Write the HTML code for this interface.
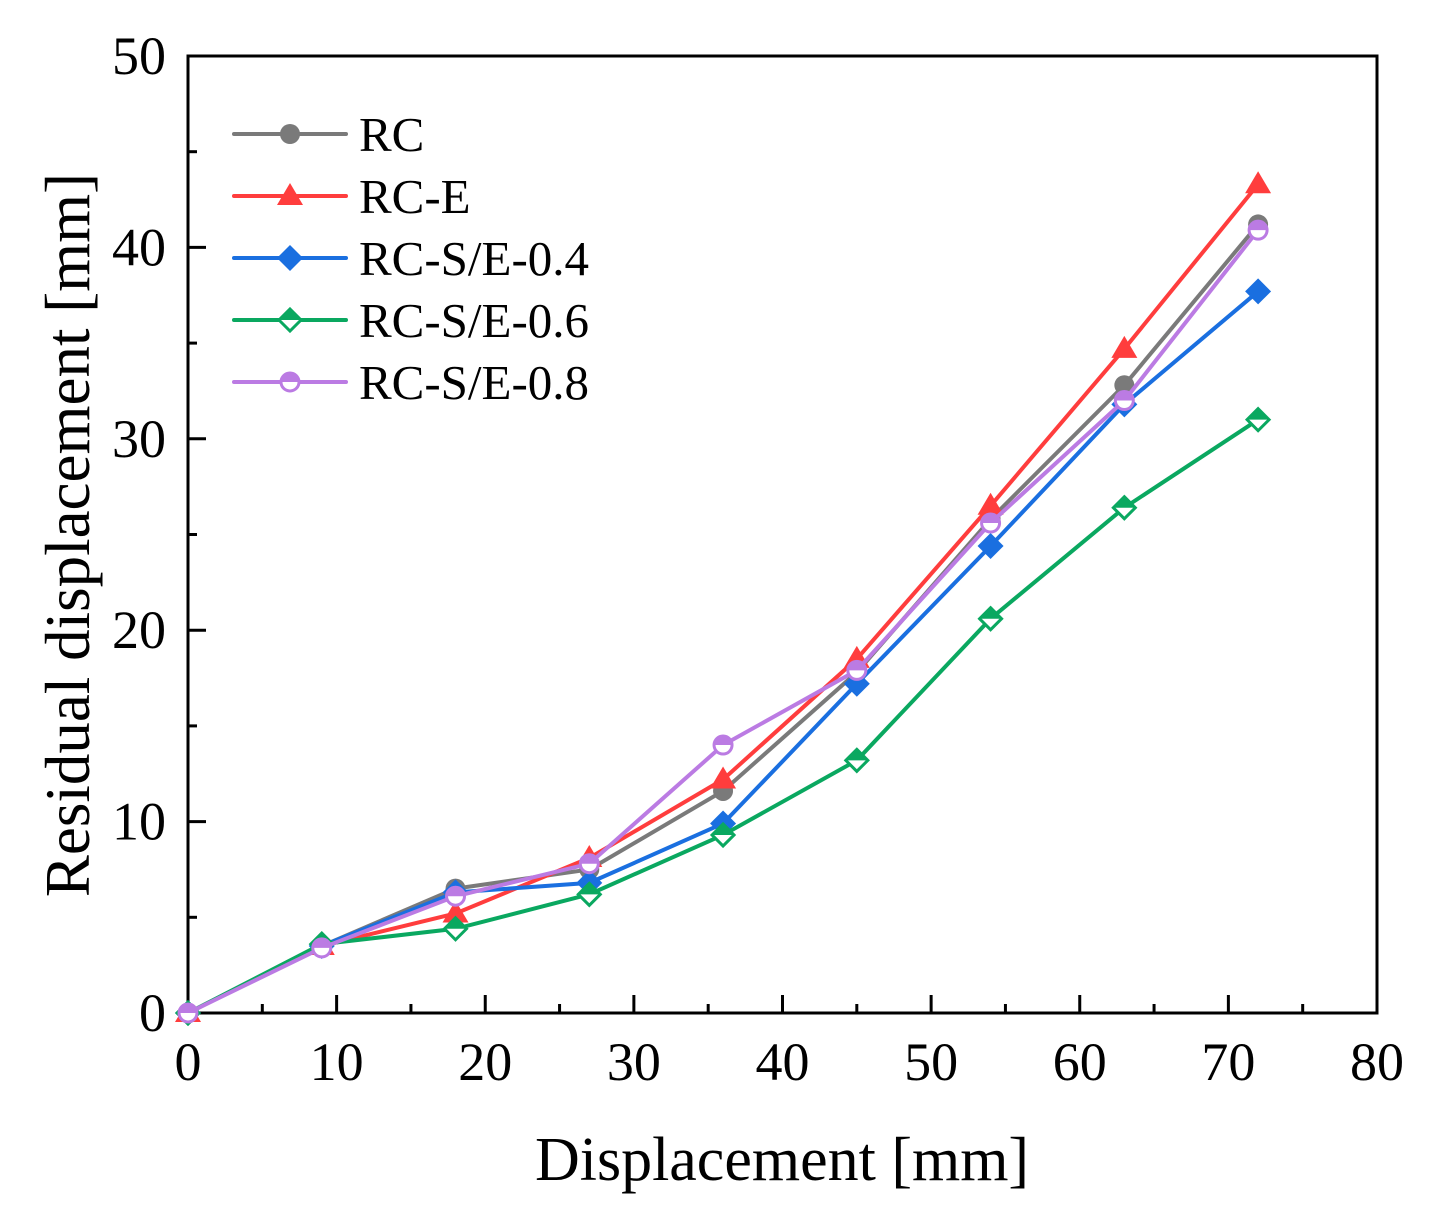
<!DOCTYPE html>
<html><head><meta charset="utf-8"><style>
html,body{margin:0;padding:0;background:#fff;}
svg{display:block;font-family:"Liberation Serif",serif;}
</style></head><body>
<svg id="chart" width="1433" height="1219" viewBox="0 0 1433 1219"></svg>
<script>
const xValues=[0,9,18,27,36,45,54,63,72];
const seriesNames=["RC","RC-E","RC-S/E-0.4","RC-S/E-0.6","RC-S/E-0.8"];
const rcValues=[0,3.5,6.5,7.5,11.6,17.8,25.8,32.8,41.2];
const rcEValues=[0,3.5,5.2,8.1,12.2,18.5,26.5,34.7,43.3];
const se04Values=[0,3.5,6.3,6.8,9.9,17.2,24.4,31.8,37.7];
const se06Values=[0,3.6,4.4,6.2,9.3,13.2,20.6,26.4,31.0];
const se08Values=[0,3.4,6.1,7.8,14.0,17.9,25.6,32.0,40.9];
const xTicks=[0,10,20,30,40,50,60,70,80];
const yTicks=[0,10,20,30,40,50];

const NS="http://www.w3.org/2000/svg";
const svg=document.getElementById('chart');
const L=188,R=1377,T=56,B=1013;
const sx=v=>L+(v-0)/80*(R-L);
const sy=v=>B-(v-0)/50*(B-T);
function mk(tag,attrs,parent){const e=document.createElementNS(NS,tag);for(const k in attrs)e.setAttribute(k,attrs[k]);(parent||svg).appendChild(e);return e;}

for(let i=0;i<=16;i++){const v=i*5;const x=sx(v);const major=i%2===0;
 const t=mk('line',{x1:x,y1:B,x2:x,y2:B-(major?18:9),stroke:'#000','stroke-width':3});
 
 }
xTicks.forEach(v=>{const t=mk('text',{x:sx(v),y:1080,'font-size':54,'text-anchor':'middle'});t.textContent=v;
 
 });
for(let i=0;i<=10;i++){const v=i*5;const y=sy(v);const major=i%2===0;
 const t=mk('line',{x1:L,y1:y,x2:L+(major?18:9),y2:y,stroke:'#000','stroke-width':3});
 
 }
yTicks.forEach(v=>{const t=mk('text',{x:166,y:sy(v)+18,'font-size':54,'text-anchor':'end'});t.textContent=v;
 
 });
const frame=mk('rect',{x:L,y:T,width:R-L,height:B-T,fill:'none',stroke:'#000','stroke-width':3});


const xt=mk('text',{x:782,y:1180,'font-size':62,'text-anchor':'middle'});xt.textContent='Displacement [mm]';


const yt=mk('text',{x:0,y:0,'font-size':63,'text-anchor':'middle',transform:'translate(89,535) rotate(-90)'});yt.textContent='Residual displacement [mm]';



const all=[rcValues,rcEValues,se04Values,se06Values,se08Values];
const colors=['#7a7a7a','#ff3d3d','#1a6fe0','#0aa860','#bb7be3'];
const markers=['circle','triangle','diamond','diamondOpen','circleOpen'];
function marker(g,type,x,y,c){
 if(type==='circle')mk('circle',{cx:x,cy:y,r:10,fill:c},g);
 else if(type==='circleOpen'){mk('circle',{cx:x,cy:y,r:9,fill:'#fff',stroke:c,'stroke-width':3},g);mk('path',{d:`M${x-9},${y} A9,9 0 0 1 ${x+9},${y} Z`,fill:c},g);}
 else if(type==='triangle')mk('polygon',{points:`${x},${y-13} ${x+13},${y+9} ${x-13},${y+9}`,fill:c},g);
 else if(type==='diamond')mk('polygon',{points:`${x},${y-13} ${x+13},${y} ${x},${y+13} ${x-13},${y}`,fill:c},g);
 else {mk('polygon',{points:`${x},${y-11} ${x+11},${y} ${x},${y+11} ${x-11},${y}`,fill:'#fff',stroke:c,'stroke-width':3},g);mk('polygon',{points:`${x-11},${y} ${x+11},${y} ${x},${y-11}`,fill:c},g);}
}
all.forEach((vals,si)=>{
 const g=mk('g',{});
 
 
 mk('polyline',{points:vals.map((v,i)=>sx(xValues[i])+','+sy(v)).join(' '),fill:'none',stroke:colors[si],'stroke-width':4},g);
 vals.forEach((v,i)=>marker(g,markers[si],sx(xValues[i]),sy(v),colors[si]));
});
all.forEach((vals,si)=>{
 const lg=mk('g',{});
 
 
 const ly=134+si*62;
 mk('line',{x1:234,y1:ly,x2:346,y2:ly,stroke:colors[si],'stroke-width':4,'stroke-linecap':'round'},lg);
 marker(lg,markers[si],290,ly,colors[si]);
 const tx=mk('text',{x:359,y:ly+17,'font-size':49},lg);tx.textContent=seriesNames[si];
});
</script>
</body></html>
